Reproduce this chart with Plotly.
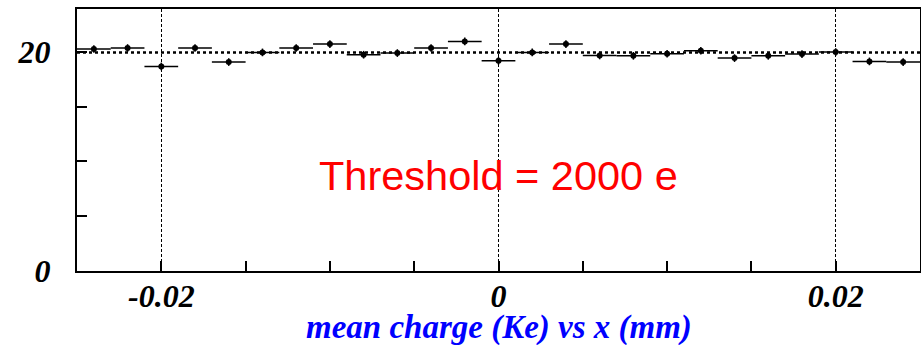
import plotly.graph_objects as go

# Bin centres (mm) and mean collected charge (Ke) per bin
x_centres = [-0.024, -0.022, -0.020, -0.018, -0.016, -0.014, -0.012, -0.010,
             -0.008, -0.006, -0.004, -0.002, 0.000, 0.002, 0.004, 0.006,
             0.008, 0.010, 0.012, 0.014, 0.016, 0.018, 0.020, 0.022, 0.024]
mean_charge = [20.25, 20.34, 18.66, 20.34, 19.06, 19.94, 20.34, 20.70,
               19.73, 19.88, 20.34, 20.94, 19.18, 19.94, 20.70, 19.66,
               19.63, 19.82, 20.09, 19.42, 19.63, 19.79, 19.97, 19.12, 19.06]
half_bin = [0.001] * len(x_centres)
charge_err = [0.35] * len(x_centres)

# Constant fit over the full range
fit_mean = 19.93
fit_x = [-0.025, 0.025]

x_ticks = [-0.02, 0.0, 0.02]
x_tick_text = ["-0.02", "0", "0.02"]
x_minor = [-0.015, -0.01, -0.005, 0.005, 0.01, 0.015]
y_ticks = [0, 20]
y_tick_text = ["0", "20"]
y_minor = [5, 10, 15]

axis_font = dict(family="Liberation Serif", size=32, color="black",
                 weight="bold", style="italic")

fig = go.Figure()

fig.add_trace(go.Scatter(
    x=x_centres, y=mean_charge, mode="markers",
    marker=dict(symbol="circle", size=6, color="black"),
    error_x=dict(type="data", array=half_bin, width=0, thickness=1.5, color="black"),
    error_y=dict(type="data", array=charge_err, width=0, thickness=1.5, color="black"),
    showlegend=False,
))

fig.add_trace(go.Scatter(
    x=fit_x, y=[fit_mean, fit_mean], mode="lines",
    line=dict(color="black", width=2.5, dash="3px,3px"),
    showlegend=False,
))

fig.add_annotation(
    x=0.0, y=8.75, xref="x", yref="y",
    text="Threshold = 2000 e", showarrow=False,
    font=dict(family="Liberation Sans", size=41.5, color="#ff0000"),
    xanchor="center", yanchor="middle",
)

# Axis title placed below the tick labels
fig.add_annotation(
    x=0.5, y=-0.215, xref="paper", yref="paper",
    text="mean charge (Ke) vs x (mm)", showarrow=False,
    font=dict(family="Liberation Serif", size=33, color="#0000ff",
              weight="bold", style="italic"),
    xanchor="center", yanchor="middle",
)

fig.update_xaxes(
    range=[-0.025, 0.025],
    tickmode="array", tickvals=x_ticks, ticktext=x_tick_text,
    ticks="inside", ticklen=10, tickwidth=1.5, tickcolor="black",
    tickfont=axis_font, ticklabelstandoff=-4,
    minor=dict(tickvals=x_minor, ticks="inside", ticklen=10, tickwidth=1.5,
               tickcolor="black", showgrid=False),
    showgrid=True, gridcolor="black", griddash="3px,2px", gridwidth=1,
    showline=True, linecolor="black", linewidth=2, mirror=True,
    zeroline=False, automargin=False,
)

fig.update_yaxes(
    range=[0, 23.9],
    tickmode="array", tickvals=y_ticks, ticktext=y_tick_text,
    ticks="inside", ticklen=10, tickwidth=1.5, tickcolor="black",
    tickfont=axis_font, ticklabelstandoff=18,
    minor=dict(tickvals=y_minor, ticks="inside", ticklen=10, tickwidth=1.5,
               tickcolor="black", showgrid=False),
    showgrid=False,
    showline=True, linecolor="black", linewidth=2, mirror=True,
    zeroline=False, automargin=False,
)

fig.update_layout(
    width=921, height=345,
    margin=dict(l=77, r=1, t=9, b=74),
    plot_bgcolor="white", paper_bgcolor="white",
)

fig.write_html("out.html")
